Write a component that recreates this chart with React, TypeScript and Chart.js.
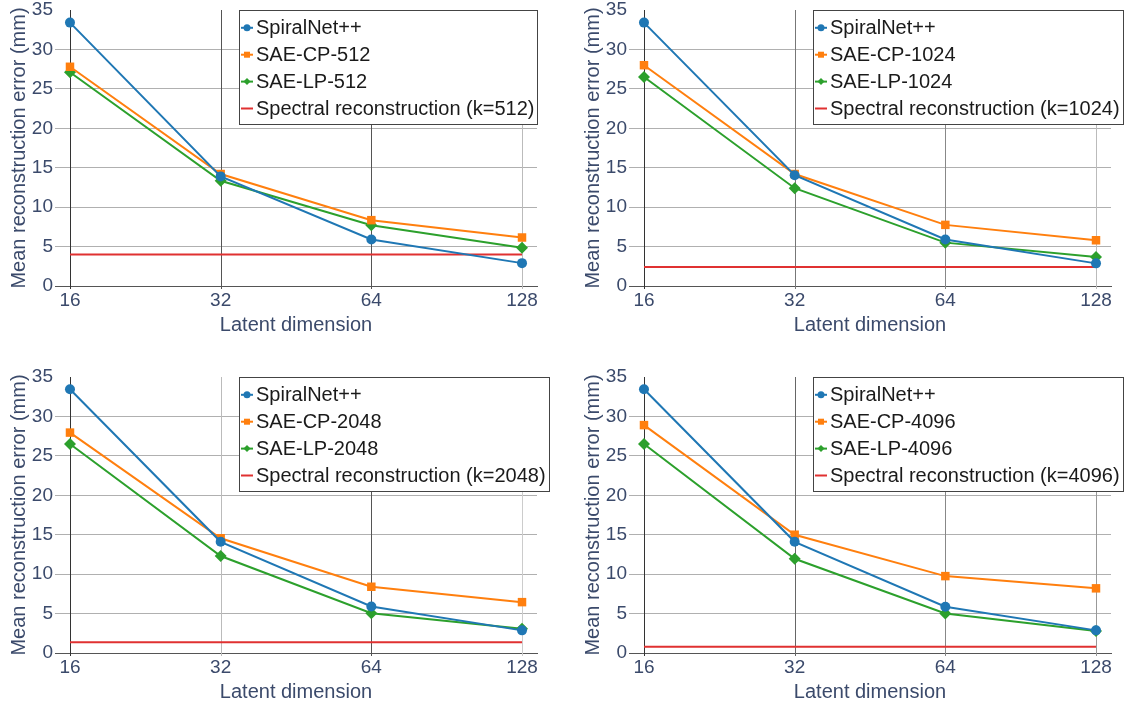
import React, { useEffect, useRef } from "react";
import { Chart, registerables } from "chart.js";

Chart.register(...registerables);

// ---------- data ----------
const latentDims = [16, 32, 64, 128];
const yTicks = [0, 5, 10, 15, 20, 25, 30, 35];

const kValues = [512, 1024, 2048, 4096];

const spiralNet512 = [33.4, 13.9, 5.9, 2.9];
const saeCP512 = [27.8, 14.2, 8.35, 6.15];
const saeLP512 = [27.1, 13.35, 7.7, 4.85];
const spectral512 = 4.0;

const spiralNet1024 = [33.4, 14.05, 5.9, 2.87];
const saeCP1024 = [28.0, 14.2, 7.75, 5.8];
const saeLP1024 = [26.5, 12.4, 5.5, 3.67];
const spectral1024 = 2.4;

const spiralNet2048 = [33.45, 14.1, 5.9, 2.87];
const saeCP2048 = [27.95, 14.55, 8.4, 6.45];
const saeLP2048 = [26.5, 12.3, 5.05, 3.08];
const spectral2048 = 1.35;

const spiralNet4096 = [33.45, 14.1, 5.86, 2.87];
const saeCP4096 = [28.9, 15.0, 9.75, 8.2];
const saeLP4096 = [26.5, 11.95, 5.02, 2.78];
const spectral4096 = 0.8;

const panelData = [
  { k: kValues[0], spiral: spiralNet512, cp: saeCP512, lp: saeLP512, spectral: spectral512 },
  { k: kValues[1], spiral: spiralNet1024, cp: saeCP1024, lp: saeLP1024, spectral: spectral1024 },
  { k: kValues[2], spiral: spiralNet2048, cp: saeCP2048, lp: saeLP2048, spectral: spectral2048 },
  { k: kValues[3], spiral: spiralNet4096, cp: saeCP4096, lp: saeLP4096, spectral: spectral4096 },
];

// ---------- styles ----------
const FONT = '"Liberation Sans", Arial, Helvetica, sans-serif';
const AXIS_TEXT = "#3b4a6b";
const BLUE = "#1f77b4";
const ORANGE = "#ff7f0e";
const GREEN = "#2ca02c";
const RED = "#e03131";

const panelPos = [
  { left: 0, top: 0 },
  { left: 574, top: 0 },
  { left: 0, top: 367 },
  { left: 574, top: 367 },
];
const CANVAS_W = 552;
const CANVAS_H = 340;

// vertical grid colours for ticks 16, 32, 64, 128 in each panel
const vGridColors = [
  ["#333", "#555", "#555", "#bbb"],
  ["#333", "#777", "#888", "#bbb"],
  ["#333", "#bbb", "#555", "#ccc"],
  ["#333", "#666", "#888", "#999"],
];

function drawMarker(ctx: CanvasRenderingContext2D, style: string, x: number, y: number, r: number) {
  ctx.beginPath();
  if (style === "circle") {
    ctx.arc(x, y, r, 0, Math.PI * 2);
  } else if (style === "rect") {
    ctx.rect(x - r, y - r, 2 * r, 2 * r);
  } else if (style === "rectRot") {
    ctx.moveTo(x, y - r);
    ctx.lineTo(x + r, y);
    ctx.lineTo(x, y + r);
    ctx.lineTo(x - r, y);
    ctx.closePath();
  }
  ctx.fill();
}

// vertical grid lines at the category positions, placed through the x scale
const vGrid = {
  id: "vGrid",
  beforeDatasetsDraw(chart: any) {
    const { ctx, chartArea, scales } = chart;
    const colors = chart.options.plugins.vGrid.colors;
    ctx.save();
    ctx.lineWidth = 1;
    latentDims.forEach((v, i) => {
      const x = Math.round(scales.x.getPixelForValue(v)) + 0.5;
      ctx.strokeStyle = colors[i];
      ctx.beginPath();
      ctx.moveTo(x, chartArea.top);
      ctx.lineTo(x, chartArea.bottom + 3);
      ctx.stroke();
    });
    ctx.restore();
  },
};

const boxLegend = {
  id: "boxLegend",
  afterDraw(chart: any) {
    const { ctx, chartArea } = chart;
    const x0 = Math.round(chartArea.left + 184);
    const y0 = Math.round(chartArea.top);
    ctx.save();
    ctx.font = `20px ${FONT}`;
    const ds = chart.data.datasets;
    const maxW = Math.max(...ds.map((d: any) => ctx.measureText(d.label).width));
    const w = Math.round(17 + maxW + 3);
    const h = 114;
    ctx.fillStyle = "#ffffff";
    ctx.fillRect(x0, y0, w, h);
    ctx.strokeStyle = "#444";
    ctx.lineWidth = 1;
    ctx.strokeRect(x0 + 0.5, y0 + 0.5, w, h);
    ds.forEach((d: any, i: number) => {
      const cy = y0 + 17.8 + i * 26.9;
      ctx.strokeStyle = d.borderColor;
      ctx.lineWidth = 2;
      ctx.beginPath();
      ctx.moveTo(x0 + 2, cy);
      ctx.lineTo(x0 + 14, cy);
      ctx.stroke();
      if (d.legendMarker) {
        ctx.fillStyle = d.borderColor;
        drawMarker(ctx, d.legendMarker, x0 + 8, cy, d.legendMarker === "rect" ? 3 : 3.5);
      }
      ctx.fillStyle = "#1a1a1a";
      ctx.textBaseline = "middle";
      ctx.textAlign = "left";
      ctx.fillText(d.label, x0 + 17, cy + 0.5);
    });
    ctx.restore();
  },
};

function Panel({ idx }: { idx: number }) {
  const ref = useRef<HTMLCanvasElement | null>(null);
  useEffect(() => {
    const p = panelData[idx];
    const toPts = (arr: number[]) => latentDims.map((x, i) => ({ x, y: arr[i] }));
    const chart = new Chart(ref.current as HTMLCanvasElement, {
      type: "line",
      data: {
        datasets: [
          {
            label: "SpiralNet++",
            data: toPts(p.spiral),
            borderColor: BLUE,
            backgroundColor: BLUE,
            borderWidth: 2,
            pointStyle: "circle",
            pointRadius: 5,
            pointBorderWidth: 0,
            legendMarker: "circle",
          } as any,
          {
            label: `SAE-CP-${p.k}`,
            data: toPts(p.cp),
            borderColor: ORANGE,
            backgroundColor: ORANGE,
            borderWidth: 2,
            pointStyle: "rect",
            pointRadius: 6,
            pointBorderWidth: 0,
            legendMarker: "rect",
          } as any,
          {
            label: `SAE-LP-${p.k}`,
            data: toPts(p.lp),
            borderColor: GREEN,
            backgroundColor: GREEN,
            borderWidth: 2,
            pointStyle: "rectRot",
            pointRadius: 6,
            pointBorderWidth: 0,
            legendMarker: "rectRot",
          } as any,
          {
            label: `Spectral reconstruction (k=${p.k})`,
            data: latentDims.map((x) => ({ x, y: p.spectral })),
            borderColor: RED,
            backgroundColor: RED,
            borderWidth: 2,
            pointRadius: 0,
            legendMarker: null,
          } as any,
        ],
      },
      options: {
        animation: false,
        responsive: false,
        events: [],
        layout: { padding: { top: 9, right: 15, bottom: 3, left: 0 } },
        plugins: {
          legend: { display: false },
          tooltip: { enabled: false },
          vGrid: { colors: vGridColors[idx] },
        },
        elements: { line: { tension: 0 } },
        scales: {
          x: {
            type: "logarithmic",
            min: latentDims[0] / 1.0714,
            max: latentDims[latentDims.length - 1] * 1.0714,
            afterBuildTicks: (s: any) => {
              s.ticks = latentDims.map((v) => ({ value: v }));
            },
            afterFit: (s: any) => {
              s.height = 51;
            },
            ticks: {
              callback: (v: any) => String(v),
              color: AXIS_TEXT,
              font: { family: FONT, size: 19, lineHeight: "18px" },
              padding: 6,
              maxRotation: 0,
              autoSkip: false,
            },
            grid: { display: false, drawTicks: false },
            border: { display: true, color: "#555", width: 1 },
            title: {
              display: true,
              text: "Latent dimension",
              color: AXIS_TEXT,
              font: { family: FONT, size: 20 },
              padding: { top: 0, bottom: 0 },
            },
          },
          y: {
            type: "linear",
            min: yTicks[0],
            max: yTicks[yTicks.length - 1],
            afterBuildTicks: (s: any) => {
              s.ticks = yTicks.map((v) => ({ value: v }));
            },
            afterFit: (s: any) => {
              s.width = 55;
            },
            ticks: {
              color: AXIS_TEXT,
              font: { family: FONT, size: 19, lineHeight: "16px" },
              padding: 2,
            },
            grid: {
              drawTicks: false,
              color: (c: any) =>
                c.tick && c.tick.value === yTicks[yTicks.length - 1] ? "rgba(0,0,0,0)" : "#b0b0b0",
              lineWidth: 1,
            },
            border: { display: false },
            title: {
              display: true,
              text: "Mean reconstruction error (mm)",
              color: AXIS_TEXT,
              font: { family: FONT, size: 20 },
              padding: { top: 7, bottom: 0 },
            },
          },
        },
      } as any,
      plugins: [vGrid, boxLegend],
    });
    return () => chart.destroy();
  }, [idx]);
  const pos = panelPos[idx];
  return (
    <canvas
      ref={ref}
      width={CANVAS_W}
      height={CANVAS_H}
      style={{ position: "absolute", left: pos.left, top: pos.top, width: CANVAS_W, height: CANVAS_H }}
    />
  );
}

export default function App() {
  return (
    <div
      style={{
        position: "absolute",
        left: 0,
        top: 0,
        width: 1126,
        height: 707,
        overflow: "hidden",
        background: "#ffffff",
      }}
    >
      {panelData.map((_, i) => (
        <Panel key={i} idx={i} />
      ))}
    </div>
  );
}
